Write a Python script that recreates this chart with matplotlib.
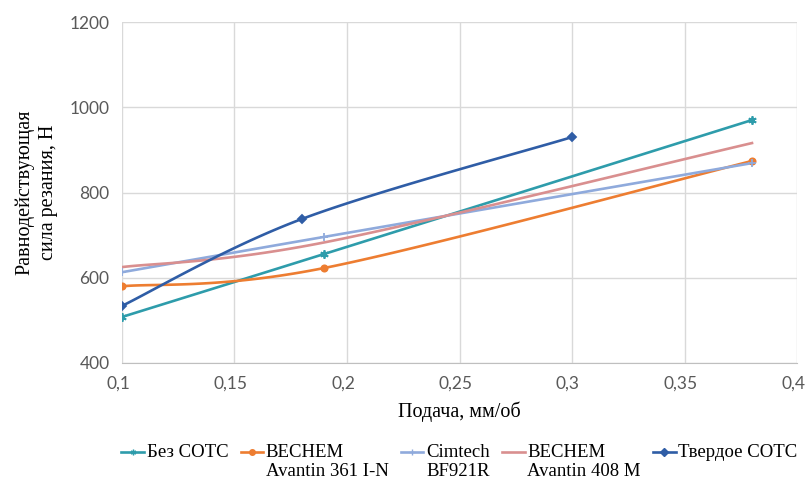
import matplotlib.pyplot as plt
import matplotlib.transforms as mtransforms
from matplotlib.legend_handler import HandlerLine2D
import numpy as np

plt.rcParams['font.family'] = ['Liberation Serif', 'DejaVu Serif']

# data
x_main = [0.1, 0.19, 0.38]
bez_sots = [508, 656, 970]
bechem_361 = [580, 623, 874]
cimtech = [613, 696, 869]
bechem_408 = [625, 683, 916]
x_solid = [0.1, 0.18, 0.3]
tverdoe = [534, 738, 930]

# empty second line keeps every legend entry two lines tall
labels = ["Без СОТС\n ", "BECHEM\nAvantin 361 I-N", "Cimtech\nBF921R",
          "BECHEM\nAvantin 408 M", "Твердое СОТС\n "]
colors = ["#2E9CAB", "#ED7D31", "#8FAADC", "#D98F8F", "#2F5DA6"]
markers = [(6, 2, 0), "o", "+", None, "D"]
msizes = [6, 4.5, 6, 0, 4]


def smooth(xs, ys, n=40):
    # Excel-like smoothing: Catmull-Rom as cubic Bezier segments
    pts = np.column_stack([np.asarray(xs, float), np.asarray(ys, float)])
    out = [pts[0]]
    for i in range(len(pts) - 1):
        p0 = pts[i - 1] if i > 0 else pts[i]
        p1 = pts[i]
        p2 = pts[i + 1]
        p3 = pts[i + 2] if i + 2 < len(pts) else pts[i + 1]
        c1 = p1 + (p2 - p0) / 6
        c2 = p2 - (p3 - p1) / 6
        t = np.linspace(0, 1, n)[1:, None]
        seg = ((1 - t) ** 3) * p1 + 3 * ((1 - t) ** 2) * t * c1 + 3 * (1 - t) * t ** 2 * c2 + t ** 3 * p2
        out.extend(seg)
    out = np.array(out)
    return out[:, 0], out[:, 1]


class UpHandler(HandlerLine2D):
    # put the legend line next to the first text line, like Excel does
    def __init__(self, dy, **kw):
        super().__init__(**kw)
        self.dy = dy

    def create_artists(self, legend, orig_handle, xdescent, ydescent, width,
                       height, fontsize, trans):
        arts = super().create_artists(legend, orig_handle, xdescent, ydescent,
                                      width, height, fontsize, trans)
        for a in arts:
            a.set_ydata(np.asarray(a.get_ydata()) + self.dy)
        return arts


fig = plt.figure(figsize=(8.07, 4.86), dpi=100)
ax = fig.add_axes([122 / 807, 0.2531, 675 / 807, 0.7016])

series = [(x_main, bez_sots), (x_main, bechem_361), (x_main, cimtech),
          (x_main, bechem_408), (x_solid, tverdoe)]
handles = []
for (xs, ys), lab, col, mk, ms in zip(series, labels, colors, markers, msizes):
    sx, sy = smooth(xs, ys)
    ax.plot(sx, sy, color=col, lw=1.9, zorder=3)
    if mk is not None:
        ax.plot(xs, ys, linestyle="none", marker=mk, color=col, ms=ms,
                mew=1.3, zorder=4)
    h, = ax.plot([], [], color=col, lw=1.9, marker=mk, ms=4, mew=1.0, label=lab)
    handles.append(h)

ax.set_xlim(0.1, 0.4)
ax.set_ylim(400, 1200)
ax.set_xticks(np.arange(0.1, 0.401, 0.05))
ax.set_xticklabels(["0,1", "0,15", "0,2", "0,25", "0,3", "0,35", "0,4"])
ax.set_yticks([400, 600, 800, 1000, 1200])
ax.grid(True, color="#D9D9D9", lw=1)
ax.set_axisbelow(True)
for s in ["top", "right", "left"]:
    ax.spines[s].set_visible(False)
ax.spines["bottom"].set_color("#BFBFBF")
ax.tick_params(length=0, labelsize=12.5, colors="#595959", pad=9)
shift = mtransforms.ScaledTranslation(-4 / 100, 0, fig.dpi_scale_trans)
for t in ax.get_xticklabels():
    t.set_family(["Lato", "DejaVu Sans"])
    t.set_transform(t.get_transform() + shift)
for t in ax.get_yticklabels():
    t.set_family(["Lato", "DejaVu Sans"])
ax.set_xlabel("Подача, мм/об", fontsize=14.5, labelpad=7)
ax.set_ylabel("Равнодействующая\nсила резания, Н", fontsize=14.5,
              labelpad=8, linespacing=1.35)

fs = 13.5
fig.legend(handles=handles, loc="center",
           bbox_to_anchor=(459.5 / 807, 24 / 486), ncol=5,
           frameon=False, fontsize=fs, handlelength=1.2, handletextpad=0.15,
           columnspacing=0.65,
           handler_map={h: UpHandler(0.55 * fs) for h in handles})

fig.savefig("out.png", dpi=100)
